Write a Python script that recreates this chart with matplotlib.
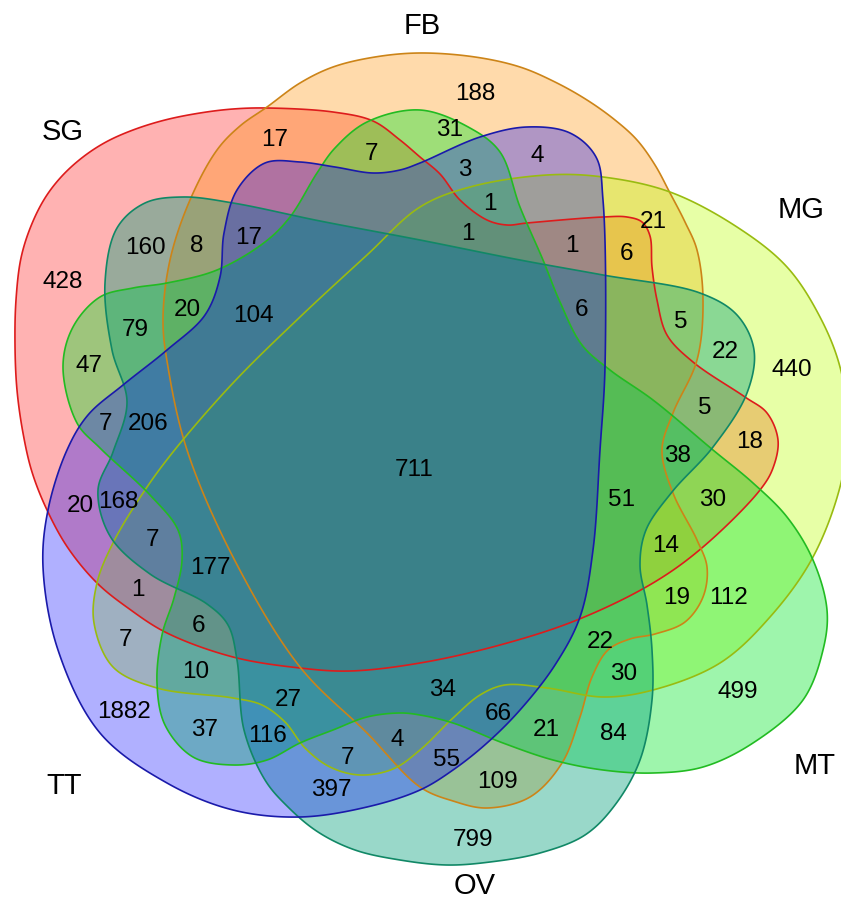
import numpy as np
import matplotlib
matplotlib.use("Agg")
import matplotlib.pyplot as plt
from matplotlib.patches import Polygon

## Sets and region counts
set_names = ["SG", "FB", "MG", "MT", "OV", "TT"]

counts = [428, 17, 7, 31, 188, 3, 4, 1, 1, 1, 6, 21,
          160, 8, 17, 20, 104, 79, 47, 7, 206,
          6, 5, 22, 440, 5, 18, 38, 711,
          51, 30, 14, 19, 112, 22, 30, 499,
          34, 66, 21, 84, 55, 109, 799, 4, 7, 397,
          116, 37, 27, 1882, 10, 7, 6, 1, 177, 7, 168, 20]

# where each count is written (pixel coords, y downwards)
count_xy = [(63, 280), (275, 138), (372, 152), (450, 128), (475, 92), (465, 167),
            (537, 153), (490, 202), (468, 232), (572, 243), (627, 252), (653, 220),
            (145, 245), (197, 243), (249, 235), (187, 308), (253, 313), (135, 328),
            (89, 363), (106, 422), (148, 422),
            (582, 307), (681, 320), (725, 350), (792, 368), (705, 406), (750, 440),
            (678, 453), (414, 467),
            (622, 497), (713, 497), (666, 543), (677, 595), (729, 596), (600, 640),
            (624, 672), (738, 690),
            (443, 688), (498, 712), (546, 727), (613, 732), (447, 758), (497, 779),
            (473, 838), (397, 737), (348, 755), (331, 787),
            (268, 733), (205, 728), (288, 698), (124, 710), (196, 670), (126, 638),
            (199, 623), (138, 587), (210, 565), (153, 538), (118, 500), (80, 503)]

name_xy = [(63, 130), (422, 23), (801, 208), (815, 763), (475, 884), (64, 784)]

fill_colors = [(1.0, 0.0, 0.0, 0.30), (1.0, 0.56, 0.0, 0.33), (0.74, 1.0, 0.0, 0.35),
               (0.0, 0.90, 0.15, 0.38), (0.0, 0.62, 0.48, 0.40), (0.0, 0.0, 1.0, 0.31)]
edge_colors = ["#dd1c1c", "#cc8418", "#99bb10", "#22bb22", "#118866", "#1a1aaa"]

## Outlines (control points, pixel coords)
outlines = [
    # SG
    [(267, 108), (333, 112), (373, 121), (400, 140), (420, 157), (440, 174), (460, 200),
     (487, 220), (507, 225), (527, 223), (603, 217), (627, 217), (642, 222), (650, 236),
     (652, 267), (657, 300), (667, 335), (693, 362), (745, 397), (767, 413), (778, 440),
     (773, 468), (760, 490), (703, 547), (653, 583), (577, 620), (500, 645), (420, 663),
     (350, 671), (300, 668), (233, 657), (167, 633), (128, 608), (97, 583), (68, 548),
     (47, 510), (32, 472), (23, 433), (17, 390), (15, 345), (16, 300), (21, 258),
     (31, 226), (45, 198), (62, 176), (83, 157), (106, 142), (133, 130), (165, 120),
     (200, 113), (233, 109)],
    # FB
    [(420, 53), (475, 57), (520, 67), (555, 82), (587, 100), (615, 120), (637, 140),
     (655, 165), (670, 193), (685, 222), (697, 250), (703, 300),
     (697, 360), (673, 413), (662, 450), (673, 493), (697, 540), (707, 567), (703, 597),
     (685, 622), (655, 634), (630, 639), (608, 650), (592, 677), (580, 717), (562, 763),
     (530, 797), (487, 808), (453, 801), (420, 787), (367, 733), (300, 667), (233, 557),
     (187, 450), (168, 367), (163, 320), (170, 260), (190, 200), (217, 150), (240, 126),
     (267, 107), (300, 83), (333, 67), (375, 57)],
    # MG
    [(420, 207), (470, 187), (547, 175), (603, 177), (670, 192), (737, 227), (787, 267),
     (820, 317), (840, 367), (848, 425), (841, 483), (813, 557), (770, 617),
     (720, 663), (653, 690), (603, 697), (547, 688), (505, 685), (480, 695), (453, 718),
     (420, 750), (393, 769), (360, 775), (330, 767), (305, 748), (285, 722), (262, 705),
     (233, 698), (157, 688), (113, 667), (94, 623), (97, 583), (113, 543), (143, 493),
     (173, 452), (233, 383), (300, 317), (367, 255)],
    # MT
    [(420, 110), (470, 128), (500, 152), (520, 207), (543, 260), (560, 302), (582, 345),
     (610, 370), (653, 400), (713, 450), (753, 483), (787, 517), (813, 560), (827, 610),
     (823, 650), (803, 700), (753, 743), (703, 767), (653, 773), (603, 770), (553, 760),
     (503, 743), (453, 723), (420, 715), (400, 713), (367, 717), (333, 730), (300, 743),
     (267, 760), (233, 765), (193, 757), (165, 725), (157, 683), (162, 635), (174, 598),
     (182, 560), (178, 530), (150, 495), (100, 448), (77, 423), (63, 367), (73, 327),
     (100, 297), (133, 288), (167, 283), (217, 270), (265, 242), (290, 217), (317, 173),
     (335, 148), (367, 122)],
    # OV
    [(183, 197), (233, 203), (320, 221), (420, 240), (520, 260), (603, 275), (700, 293),
     (737, 315), (754, 350), (747, 393), (713, 447), (672, 492), (646, 530), (640, 565),
     (647, 605), (652, 650), (652, 700), (640, 760), (615, 805), (585, 835), (540, 853),
     (490, 862), (447, 865), (400, 860), (355, 850), (318, 832), (288, 807), (265, 780),
     (244, 730), (237, 660), (228, 625), (207, 604), (150, 574), (110, 536), (98, 490),
     (113, 452), (127, 402), (112, 350), (105, 283), (117, 228), (145, 203)],
    # TT
    [(420, 163), (480, 137), (527, 127), (570, 133), (596, 157), (603, 200), (605, 367),
     (600, 450), (593, 550), (580, 617), (555, 665), (520, 710), (487, 743), (453, 770),
     (420, 790), (367, 807), (300, 817), (233, 810), (167, 783), (100, 733), (58, 650),
     (43, 567), (48, 510), (67, 450), (88, 415), (123, 385), (167, 350), (205, 315),
     (220, 277), (224, 233), (237, 190), (265, 163), (300, 162), (335, 167), (373, 173),
     (400, 170)],
]


def closed_curve(pts, n=24):
    # centripetal Catmull-Rom through the points, closed
    p = np.asarray(pts, dtype=float)
    m = len(p)
    out = []
    for i in range(m):
        p0, p1, p2, p3 = p[i - 1], p[i], p[(i + 1) % m], p[(i + 2) % m]
        t0 = 0.0
        t1 = t0 + np.linalg.norm(p1 - p0) ** 0.5
        t2 = t1 + np.linalg.norm(p2 - p1) ** 0.5
        t3 = t2 + np.linalg.norm(p3 - p2) ** 0.5
        t = np.linspace(t1, t2, n, endpoint=False)[:, None]
        a1 = (t1 - t) / (t1 - t0) * p0 + (t - t0) / (t1 - t0) * p1
        a2 = (t2 - t) / (t2 - t1) * p1 + (t - t1) / (t2 - t1) * p2
        a3 = (t3 - t) / (t3 - t2) * p2 + (t - t2) / (t3 - t2) * p3
        b1 = (t2 - t) / (t2 - t0) * a1 + (t - t0) / (t2 - t0) * a2
        b2 = (t3 - t) / (t3 - t1) * a2 + (t - t1) / (t3 - t1) * a3
        out.append((t2 - t) / (t2 - t1) * b1 + (t - t1) / (t2 - t1) * b2)
    return np.vstack(out)


fig = plt.figure(figsize=(8.41, 9.0), dpi=100)
ax = fig.add_axes([0, 0, 1, 1])
ax.set_xlim(0, 841)
ax.set_ylim(900, 0)
ax.axis("off")

curves = [closed_curve(o) for o in outlines]

# fills first, outlines on top
for c, fc in zip(curves, fill_colors):
    ax.add_patch(Polygon(c, closed=True, facecolor=fc, edgecolor="none"))
for c, ec in zip(curves, edge_colors):
    ax.add_patch(Polygon(c, closed=True, facecolor="none", edgecolor=ec, linewidth=1.2))

font = "Liberation Sans"
for val, (x, y) in zip(counts, count_xy):
    ax.text(x, y + 8.5, str(val), ha="center", va="baseline", fontsize=17.5, family=font)

for name, (x, y) in zip(set_names, name_xy):
    ax.text(x, y + 10.5, name, ha="center", va="baseline", fontsize=21, family=font)

fig.savefig("out.png", dpi=100)
